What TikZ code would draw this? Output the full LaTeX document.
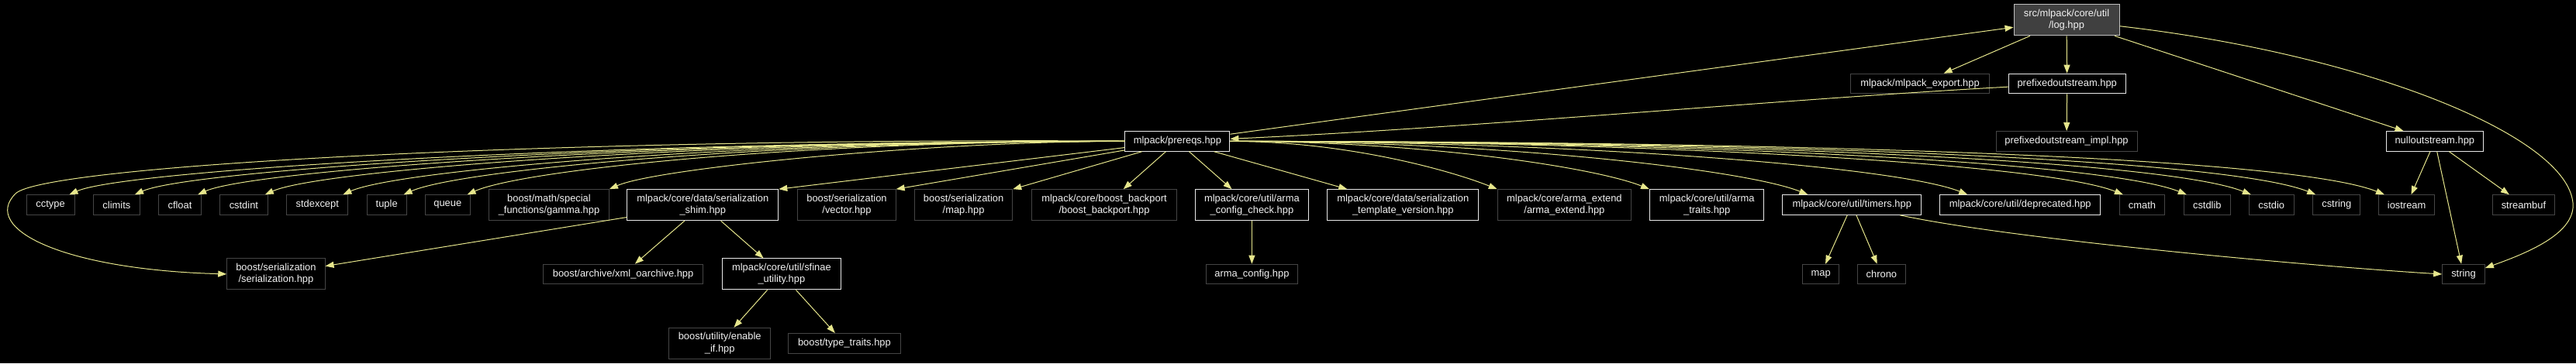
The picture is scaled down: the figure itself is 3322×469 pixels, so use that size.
\documentclass[tikz,border=0pt]{standalone}
\usepackage{fontspec}
\setmainfont{Liberation Sans}
\usetikzlibrary{arrows.meta,calc}
\definecolor{EdgeYel}{HTML}{E6E68C}
\definecolor{DocLine}{HTML}{E8E8E8}
\definecolor{ExtLine}{HTML}{454545}
\definecolor{RootFill}{HTML}{404040}
\definecolor{RootLine}{HTML}{BFBFBF}
\definecolor{Txt}{HTML}{F2F2F2}
\tikzset{
  >={Triangle[length=11pt,width=8pt]},
  hdr/.style={rectangle,draw=ExtLine,line width=1pt,fill=black,text=Txt,inner sep=0pt,
    minimum height=25.6pt,align=center,font=\fontsize{12.9pt}{15.3pt}\selectfont},
  hdrtwo/.style={hdr,minimum height=40pt},
  doc/.style={hdr,draw=DocLine},
  doctwo/.style={doc,minimum height=40pt},
  root/.style={hdrtwo,fill=RootFill,draw=RootLine},
  inc/.style={->,draw=EdgeYel,line width=1pt}
}
\begin{document}
\begin{tikzpicture}[x=1pt,y=-1pt]
  \useasboundingbox[fill=black] (0,0) rectangle (3322,469);
  % top part
  \node[root,minimum width=136] (log) at (2665,25.9) {src/mlpack/core/util\\/log.hpp};
  \node[hdr,minimum width=179] (export) at (2476,108) {mlpack/mlpack\_export.hpp};
  \node[doc,minimum width=151] (pfx) at (2665.7,108) {prefixedoutstream.hpp};
  \node[doc,minimum width=135] (prereqs) at (1518.4,182.4) {mlpack/prereqs.hpp};
  \node[hdr,minimum width=182] (pfximpl) at (2665,182.4) {prefixedoutstream\_impl.hpp};
  \node[doc,minimum width=125.6] (nullout) at (3139.8,182.4) {nulloutstream.hpp};
  % headers included by prereqs
  \node[hdr,minimum width=61.8] (cctype) at (65.1,264.5) {cctype};
  \node[hdr,minimum width=60.2] (climits) at (150.4,264.5) {climits};
  \node[hdr,minimum width=55.3] (cfloat) at (232,264.5) {cfloat};
  \node[hdr,minimum width=61.8] (cstdint) at (314.4,264.5) {cstdint};
  \node[hdr,minimum width=79.2] (stdexcept) at (409.3,264.5) {stdexcept};
  \node[hdr,minimum width=50.9] (tuple) at (498.7,264.5) {tuple};
  \node[hdr,minimum width=57.5] (queue) at (577.3,264.5) {queue};
  \node[hdrtwo,minimum width=155] (gamma) at (708,264.7) {boost/math/special\\\_functions/gamma.hpp};
  \node[doctwo,minimum width=195] (shim) at (906.3,264.7) {mlpack/core/data/serialization\\\_shim.hpp};
  \node[hdrtwo,minimum width=126.3] (vector) at (1092,264.7) {boost/serialization\\/vector.hpp};
  \node[hdrtwo,minimum width=126.3] (maphpp) at (1242.6,264.7) {boost/serialization\\/map.hpp};
  \node[hdrtwo,minimum width=186.5] (backport) at (1424,264.7) {mlpack/core/boost\_backport\\/boost\_backport.hpp};
  \node[doctwo,minimum width=146.8] (armacheck) at (1614.4,264.7) {mlpack/core/util/arma\\\_config\_check.hpp};
  \node[doctwo,minimum width=195] (tmplver) at (1809.3,264.7) {mlpack/core/data/serialization\\\_template\_version.hpp};
  \node[hdrtwo,minimum width=172.4] (armaext) at (2017.4,264.7) {mlpack/core/arma\_extend\\/arma\_extend.hpp};
  \node[doctwo,minimum width=147.4] (armatraits) at (2201.2,264.7) {mlpack/core/util/arma\\\_traits.hpp};
  \node[doc,minimum width=178.8] (timers) at (2388.2,264.5) {mlpack/core/util/timers.hpp};
  \node[doc,minimum width=207] (deprecated) at (2605.2,264.5) {mlpack/core/util/deprecated.hpp};
  \node[hdr,minimum width=58.2] (cmath) at (2762.5,264.5) {cmath};
  \node[hdr,minimum width=60] (cstdlib) at (2846.3,264.5) {cstdlib};
  \node[hdr,minimum width=57.6] (cstdio) at (2929.2,264.5) {cstdio};
  \node[hdr,minimum width=61.2] (cstring) at (3013.3,264.5) {cstring};
  \node[hdr,minimum width=72.3] (iostream) at (3103.6,264.5) {iostream};
  \node[hdr,minimum width=80] (streambuf) at (3254.4,264.5) {streambuf};
  % lower rows
  \node[hdrtwo,minimum width=126.3] (sertop) at (355.9,353.9) {boost/serialization\\/serialization.hpp};
  \node[hdr,minimum width=206.4] (xmlo) at (803.6,354) {boost/archive/xml\_oarchive.hpp};
  \node[doctwo,minimum width=153.4] (sfinae) at (1007.9,353.9) {mlpack/core/util/sfinae\\\_utility.hpp};
  \node[hdr,minimum width=118.7] (armacfg) at (1614.4,354) {arma\_config.hpp};
  \node[hdr,minimum width=46.6] (mapstd) at (2348.1,354) {map};
  \node[hdr,minimum width=61.2] (chrono) at (2426.4,354) {chrono};
  \node[hdr,minimum width=54.7] (string) at (3177,354) {string};
  \node[hdrtwo,minimum width=130.6] (enableif) at (928.2,443.3) {boost/utility/enable\\\_if.hpp};
  \node[hdr,minimum width=144.2] (typetraits) at (1088.9,443.3) {boost/type\_traits.hpp};

  % edges
  \draw[inc] (prereqs) -- (log);
  \draw[inc] (log) -- (export);
  \draw[inc] (log) -- (pfx);
  \draw[inc] (log) -- (nullout);
  \draw[inc] (log) .. controls (3050,70) and (3310,175) .. (3318,262)
    .. controls (3321.5,300) and (3264,325) .. ($(string.east)+(0,-8)$);
  \draw[inc] (pfx) -- (pfximpl);
  \draw[inc] (pfx) .. controls (2300,128) and (1900,165) .. (prereqs);
  \foreach \tgt/\ctl/\bend/\off in {cctype/680/70/7, climits/640/70/7, cfloat/600/70/5,
      cstdint/555/70/4, stdexcept/505/70/7, tuple/465/70/4, queue/425/70/4, gamma/250/60/0}
    \draw[inc] (prereqs) .. controls ($(prereqs.west)+(-\ctl,0)$)
      and ($(\tgt.north east)+(\bend-\off,-0.45*\bend)$) .. ($(\tgt.north east)+(-\off,0)$);
  \draw[inc] (prereqs) .. controls (700,178) and (56,214) .. (20,250)
    .. controls (-25,295) and (80,348) .. (sertop.west);
  \draw[inc] (prereqs) -- (shim.north east);
  \draw[inc] (prereqs) -- (vector.north east);
  \draw[inc] (prereqs) -- (maphpp.north east);
  \draw[inc] (prereqs) -- ($(backport.north east)+(-69,0)$);
  \draw[inc] (prereqs) -- ($(armacheck.north west)+(48,0)$);
  \draw[inc] (prereqs) -- ($(tmplver.north west)+(26,0)$);
  \foreach \tgt/\ctl/\bend/\off in {armaext/150/60/0, armatraits/250/70/0, timers/350/80/33,
      deprecated/450/90/36, cmath/550/100/5, cstdlib/600/105/4, cstdio/650/110/3,
      cstring/700/115/4, iostream/745/120/8}
    \draw[inc] (prereqs) .. controls ($(prereqs.east)+(\ctl,0)$)
      and ($(\tgt.north west)+(\off-\bend,-0.4*\bend)$) .. ($(\tgt.north west)+(\off,0)$);
  \draw[inc] (nullout) -- (iostream);
  \draw[inc] (nullout) -- (string);
  \draw[inc] (nullout) -- (streambuf);
  \draw[inc] (shim) -- (sertop);
  \draw[inc] (shim) -- (xmlo);
  \draw[inc] (shim) -- (sfinae);
  \draw[inc] (sfinae) -- (enableif);
  \draw[inc] (sfinae) -- (typetraits);
  \draw[inc] (armacheck) -- (armacfg);
  \draw[inc] (timers) -- (mapstd);
  \draw[inc] (timers) -- (chrono);
  \draw[inc] (timers) .. controls (2600,310) and (3000,345) .. (string.west);
\end{tikzpicture}
\end{document}
